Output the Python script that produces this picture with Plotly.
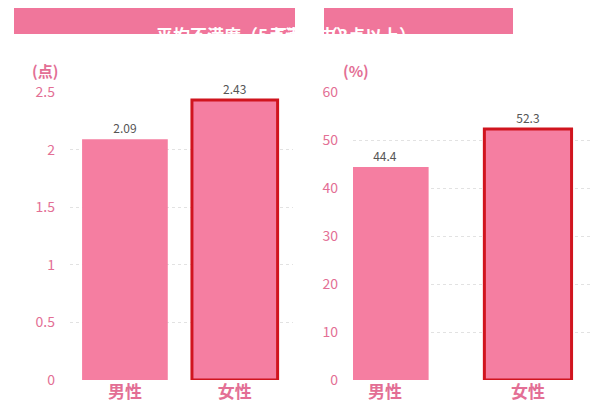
import plotly.graph_objects as go
from plotly.subplots import make_subplots

categories = ["<b>男性</b>", "<b>女性</b>"]
avg_values = [2.09, 2.43]
rate_values = [44.4, 52.3]
avg_labels = ["2.09", "2.43"]
rate_labels = ["44.4", "52.3"]

PINK = "#f57ea1"
TXT = "#e36f95"
FONT = "Noto Sans CJK JP"

fig = make_subplots(rows=1, cols=2)
line_w = [0, 3]
line_c = [PINK, "#d0141e"]

fig.add_trace(go.Bar(x=[0, 1], y=avg_values, width=0.78, marker=dict(color=PINK, line=dict(color=line_c, width=line_w)),
                     text=avg_labels, textposition="outside", textfont=dict(color="#555", size=12), cliponaxis=False), 1, 1)
fig.add_trace(go.Bar(x=[0, 1], y=rate_values, width=0.61, marker=dict(color=PINK, line=dict(color=line_c, width=line_w)),
                     text=rate_labels, textposition="outside", textfont=dict(color="#555", size=12), cliponaxis=False), 1, 2)

xcommon = dict(tickvals=[0, 1], ticktext=categories, tickfont=dict(color=TXT, size=17, family=FONT), showgrid=False,
               zeroline=False, showline=False, ticks="")
fig.update_xaxes(xcommon)
fig.update_xaxes(domain=[62 / 600, 285 / 600], range=[-0.5, 1.53], row=1, col=1)
fig.update_xaxes(domain=[345 / 600, 590 / 600], range=[-0.224, 1.49], row=1, col=2)

ycommon = dict(tickfont=dict(color=TXT, size=14), showgrid=True, gridcolor="#e2e2e2", griddash="dot",
               zeroline=False, showline=False, ticks="", ticklabelstandoff=14)
fig.update_yaxes(ycommon)
fig.update_yaxes(range=[0, 2.5], tickvals=[0, 0.5, 1, 1.5, 2, 2.5], ticktext=["0", "0.5", "1", "1.5", "2", "2.5"], row=1, col=1)
fig.update_yaxes(range=[0, 60], dtick=10, row=1, col=2)


def py(p):
    return (380 - p) / 288


shapes = [
    dict(type="rect", xref="paper", yref="paper", x0=6 / 600, x1=287 / 600, y0=py(34), y1=py(6),
         fillcolor="#f0769b", line_width=0, layer="below"),
    dict(type="rect", xref="paper", yref="paper", x0=316 / 600, x1=505 / 600, y0=py(34), y1=py(6),
         fillcolor="#f0769b", line_width=0, layer="below"),
]
ann = [
    dict(text="<b>平均不満度（5点満点中）</b>", x=146 / 600, y=py(20), xref="paper", yref="paper",
         showarrow=False, font=dict(color="white", size=17, family=FONT)),
    dict(text="<b>不満率（3点以上）</b>", x=410 / 600, y=py(20), xref="paper", yref="paper",
         showarrow=False, font=dict(color="white", size=17, family=FONT)),
    dict(text="<b>(点)</b>", x=22 / 600, y=py(58), xref="paper", yref="paper", xanchor="left",
         showarrow=False, font=dict(color=TXT, size=15, family=FONT)),
    dict(text="<b>(%)</b>", x=333 / 600, y=py(58), xref="paper", yref="paper", xanchor="left",
         showarrow=False, font=dict(color=TXT, size=15, family=FONT)),
]
fig.update_layout(width=600, height=416, margin=dict(l=0, r=0, t=84, b=44), showlegend=False,
                  plot_bgcolor="white", paper_bgcolor="white", shapes=shapes, annotations=ann,
                  font=dict(family=FONT))
fig.write_html("out.html")
